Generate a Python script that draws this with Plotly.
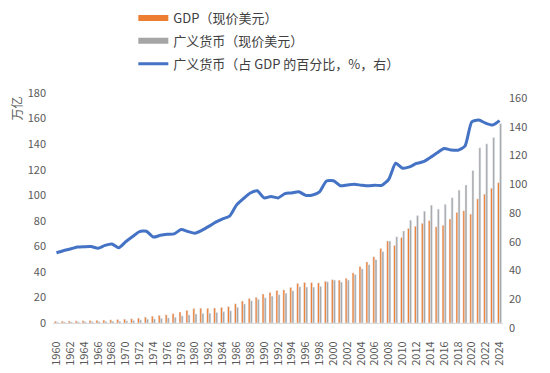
import plotly.graph_objects as go

years = list(range(1960, 2025))

gdp = [1.38, 1.44, 1.54, 1.65, 1.80, 1.96, 2.12, 2.26, 2.45, 2.70,
       2.99, 3.29, 3.81, 4.60, 5.31, 5.93, 6.42, 7.27, 8.55, 9.92,
       11.26, 11.58, 11.46, 11.72, 12.16, 12.77, 15.02, 17.19, 19.20, 20.11,
       22.68, 23.91, 25.44, 25.89, 27.81, 31.00, 31.65, 31.55, 31.39, 32.61,
       33.89, 33.52, 34.99, 39.22, 44.15, 47.78, 51.76, 58.29, 64.11, 60.72,
       66.84, 74.04, 75.71, 77.98, 80.05, 75.29, 76.46, 81.40, 86.52, 87.85,
       85.21, 97.13, 100.83, 105.44, 109.8]

broad_money = [0.67, 0.72, 0.79, 0.87, 0.96, 1.04, 1.10, 1.22, 1.35, 1.41,
               1.69, 1.98, 2.42, 2.93, 3.18, 3.62, 3.96, 4.51, 5.56, 6.31,
               7.04, 7.47, 7.70, 8.23, 8.82, 9.49, 12.32, 14.87, 17.36, 18.50,
               19.73, 21.04, 22.13, 23.30, 25.17, 28.30, 28.11, 28.08, 28.63, 32.22,
               33.55, 32.01, 33.59, 37.85, 42.34, 45.58, 49.59, 55.84, 64.11, 67.46,
               71.99, 80.41, 84.04, 87.49, 92.22, 89.14, 92.82, 98.01, 104.0, 108.06,
               119.3, 137.1, 140.2, 145.2, 156.0]

ratio_pct = [48.9, 50.3, 51.5, 52.8, 53.1, 53.2, 52.0, 54.0, 55.0, 52.4,
             56.5, 60.2, 63.6, 63.8, 59.8, 61.0, 61.7, 62.0, 65.0, 63.6,
             62.5, 64.5, 67.2, 70.2, 72.5, 74.3, 82.0, 86.5, 90.4, 92.0,
             87.0, 88.0, 87.0, 90.0, 90.5, 91.3, 88.8, 89.0, 91.2, 98.8,
             99.0, 95.5, 96.0, 96.5, 95.9, 95.4, 95.8, 95.8, 100.0, 111.1,
             107.7, 108.6, 111.0, 112.2, 115.2, 118.4, 121.4, 120.4, 120.2, 123.0,
             140.0, 141.2, 139.0, 137.7, 140.8]

names = ["GDP（现价美元）", "广义货币（现价美元）", "广义货币（占 GDP 的百分比，%，右）"]
colors = ["#ED7D31", "#A5A5A5", "#4472C4"]

FONT = "Noto Sans CJK SC"
TICKC = "#595959"

# the page body adds an 8px offset; the figure is sized to fit the window
W, H = 542, 365
L, R, T, B = 44.5, 46.5, 85, 50
PW, PH = W - L - R, H - T - B

fig = go.Figure()
fig.add_trace(go.Bar(x=years, y=gdp, marker_color=colors[0], showlegend=False,
                     name=names[0]))
fig.add_trace(go.Bar(x=years, y=broad_money, marker_color=colors[1], showlegend=False,
                     name=names[1]))
fig.add_trace(go.Scatter(x=years, y=ratio_pct, yaxis="y2", mode="lines",
                         line=dict(color=colors[2], width=3, shape="spline", smoothing=0.6),
                         showlegend=False, name=names[2]))
# legend entries
for i, (nm, c, w) in enumerate(zip(names, colors, [6, 6, 3])):
    fig.add_trace(go.Scatter(x=[None], y=[None], mode="lines", name=nm,
                             legendgroup="g%d" % i,
                             line=dict(color=c, width=w), showlegend=True))

fig.update_layout(
    width=W, height=H,
    margin=dict(l=L, r=R, t=T, b=B, autoexpand=False),
    paper_bgcolor="white", plot_bgcolor="white",
    font=dict(family=FONT, size=11, color=TICKC),
    barmode="group", bargap=0.38, bargroupgap=0.1,
    legend=dict(x=(125 - L) / PW, y=1 + (T + 5) / PH,
                xanchor="left", yanchor="top",
                font=dict(size=13, color="#404040", family=FONT),
                orientation="v", bgcolor="rgba(0,0,0,0)", itemwidth=30,
                tracegroupgap=3),
    xaxis=dict(range=[1959.5, 2024.5], tickmode="linear", tick0=1960, dtick=2,
               tickangle=-90, showgrid=False, showline=True, linecolor="#D9D9D9",
               linewidth=1, ticks="", zeroline=False, automargin=False,
               ticklabelstandoff=13,
               tickfont=dict(size=11, color=TICKC, family=FONT)),
    yaxis=dict(range=[0, 180], dtick=20, showgrid=False, zeroline=False,
               showline=False, ticks="", ticklabelstandoff=6, automargin=False,
               tickfont=dict(size=11, color=TICKC, family=FONT)),
    yaxis2=dict(range=[0, 160], dtick=20, overlaying="y", side="right",
                showgrid=False, zeroline=False, showline=False, ticks="",
                ticklabelshift=5, ticklabelstandoff=5, automargin=False,
                tickfont=dict(size=11, color=TICKC, family=FONT)),
    annotations=[dict(text="万亿", xref="paper", yref="paper",
                      x=(15 - 8 - L) / PW, y=(315 - 101) / PH,
                      xanchor="center", yanchor="middle", showarrow=False,
                      textangle=-90, font=dict(size=12, color=TICKC, family=FONT))],
)

fig.write_html("out.html")
